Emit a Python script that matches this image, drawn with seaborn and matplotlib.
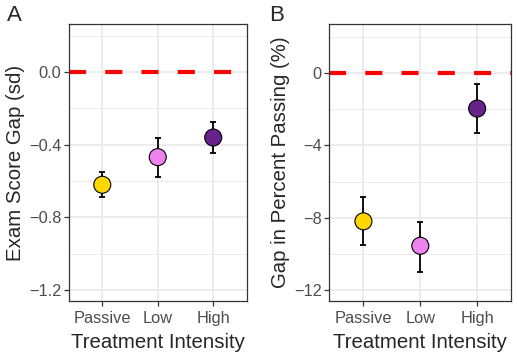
import matplotlib
matplotlib.use('Agg')
import matplotlib.pyplot as plt
import pandas as pd
import seaborn as sns
from matplotlib.ticker import MultipleLocator

# data
intensity = ['Passive', 'Low', 'High']
colors = ['#FFD700', '#EE82EE', '#68228B']

exam_gap = [-0.62, -0.468, -0.36]
exam_lo = [-0.69, -0.576, -0.447]
exam_hi = [-0.55, -0.36, -0.272]

pass_gap = [-8.2, -9.55, -1.97]
pass_lo = [-9.53, -11.0, -3.3]
pass_hi = [-6.88, -8.22, -0.64]

sns.set_theme(style='white')
plt.rcParams['font.family'] = ['Liberation Sans', 'DejaVu Sans']

fig = plt.figure(figsize=(5.17, 3.55), dpi=100)
ax_a = fig.add_axes([69 / 517, 1 - 301 / 355, 177.5 / 517, 277 / 355])
ax_b = fig.add_axes([329.3 / 517, 1 - 301 / 355, 182 / 517, 277 / 355])


def draw_panel(ax, gap, lo, hi, ylim, major, ylabel, fmt):
    df = pd.DataFrame({'intensity': intensity, 'gap': gap, 'lo': lo, 'hi': hi})
    ax.axhline(0, color='red', lw=3, ls=(0, (4.1, 4.6)), zorder=2)
    yerr = [df['gap'] - df['lo'], df['hi'] - df['gap']]
    ax.errorbar(df['intensity'], df['gap'], yerr=yerr, fmt='none',
                ecolor='black', elinewidth=1.3, capsize=2.4, capthick=1.3, zorder=3)
    sns.scatterplot(data=df, x='intensity', y='gap', hue='intensity',
                    palette=colors, s=150, edgecolor='black', linewidth=0.8,
                    legend=False, ax=ax, zorder=4)
    ax.set_xlim(-0.6, 2.6)
    ax.set_ylim(*ylim)
    ax.yaxis.set_major_locator(MultipleLocator(major))
    ax.yaxis.set_minor_locator(MultipleLocator(major / 2))
    ax.yaxis.set_major_formatter(fmt)
    ax.grid(True, which='major', color='#EBEBEB', lw=1.3, zorder=0)
    ax.grid(True, which='minor', axis='y', color='#EBEBEB', lw=0.7, zorder=0)
    ax.set_axisbelow(True)
    for s in ax.spines.values():
        s.set_color('#333333')
        s.set_linewidth(0.9)
    ax.tick_params(axis='both', which='major', length=3.5, width=0.9, color='#333333',
                   labelsize=11.8, labelcolor='#4D4D4D', pad=2, left=True, bottom=True)
    ax.tick_params(axis='x', pad=4)
    ax.tick_params(which='minor', length=0)
    ax.set_xlabel('Treatment Intensity', fontsize=14.7, labelpad=5)
    ax.set_ylabel(ylabel, fontsize=14.7, labelpad=3)


draw_panel(ax_a, exam_gap, exam_lo, exam_hi, (-1.26, 0.265), 0.4,
           'Exam Score Gap (sd)', '{x:.1f}')
draw_panel(ax_b, pass_gap, pass_lo, pass_hi, (-12.6, 2.7), 4,
           'Gap in Percent Passing (%)', '{x:.0f}')

fig.text(7 / 517, 1 - 5 / 355, 'A', fontsize=16, va='top', ha='left')
fig.text(269 / 517, 1 - 5 / 355, 'B', fontsize=16, va='top', ha='left')

fig.savefig('out.png', dpi=100)
